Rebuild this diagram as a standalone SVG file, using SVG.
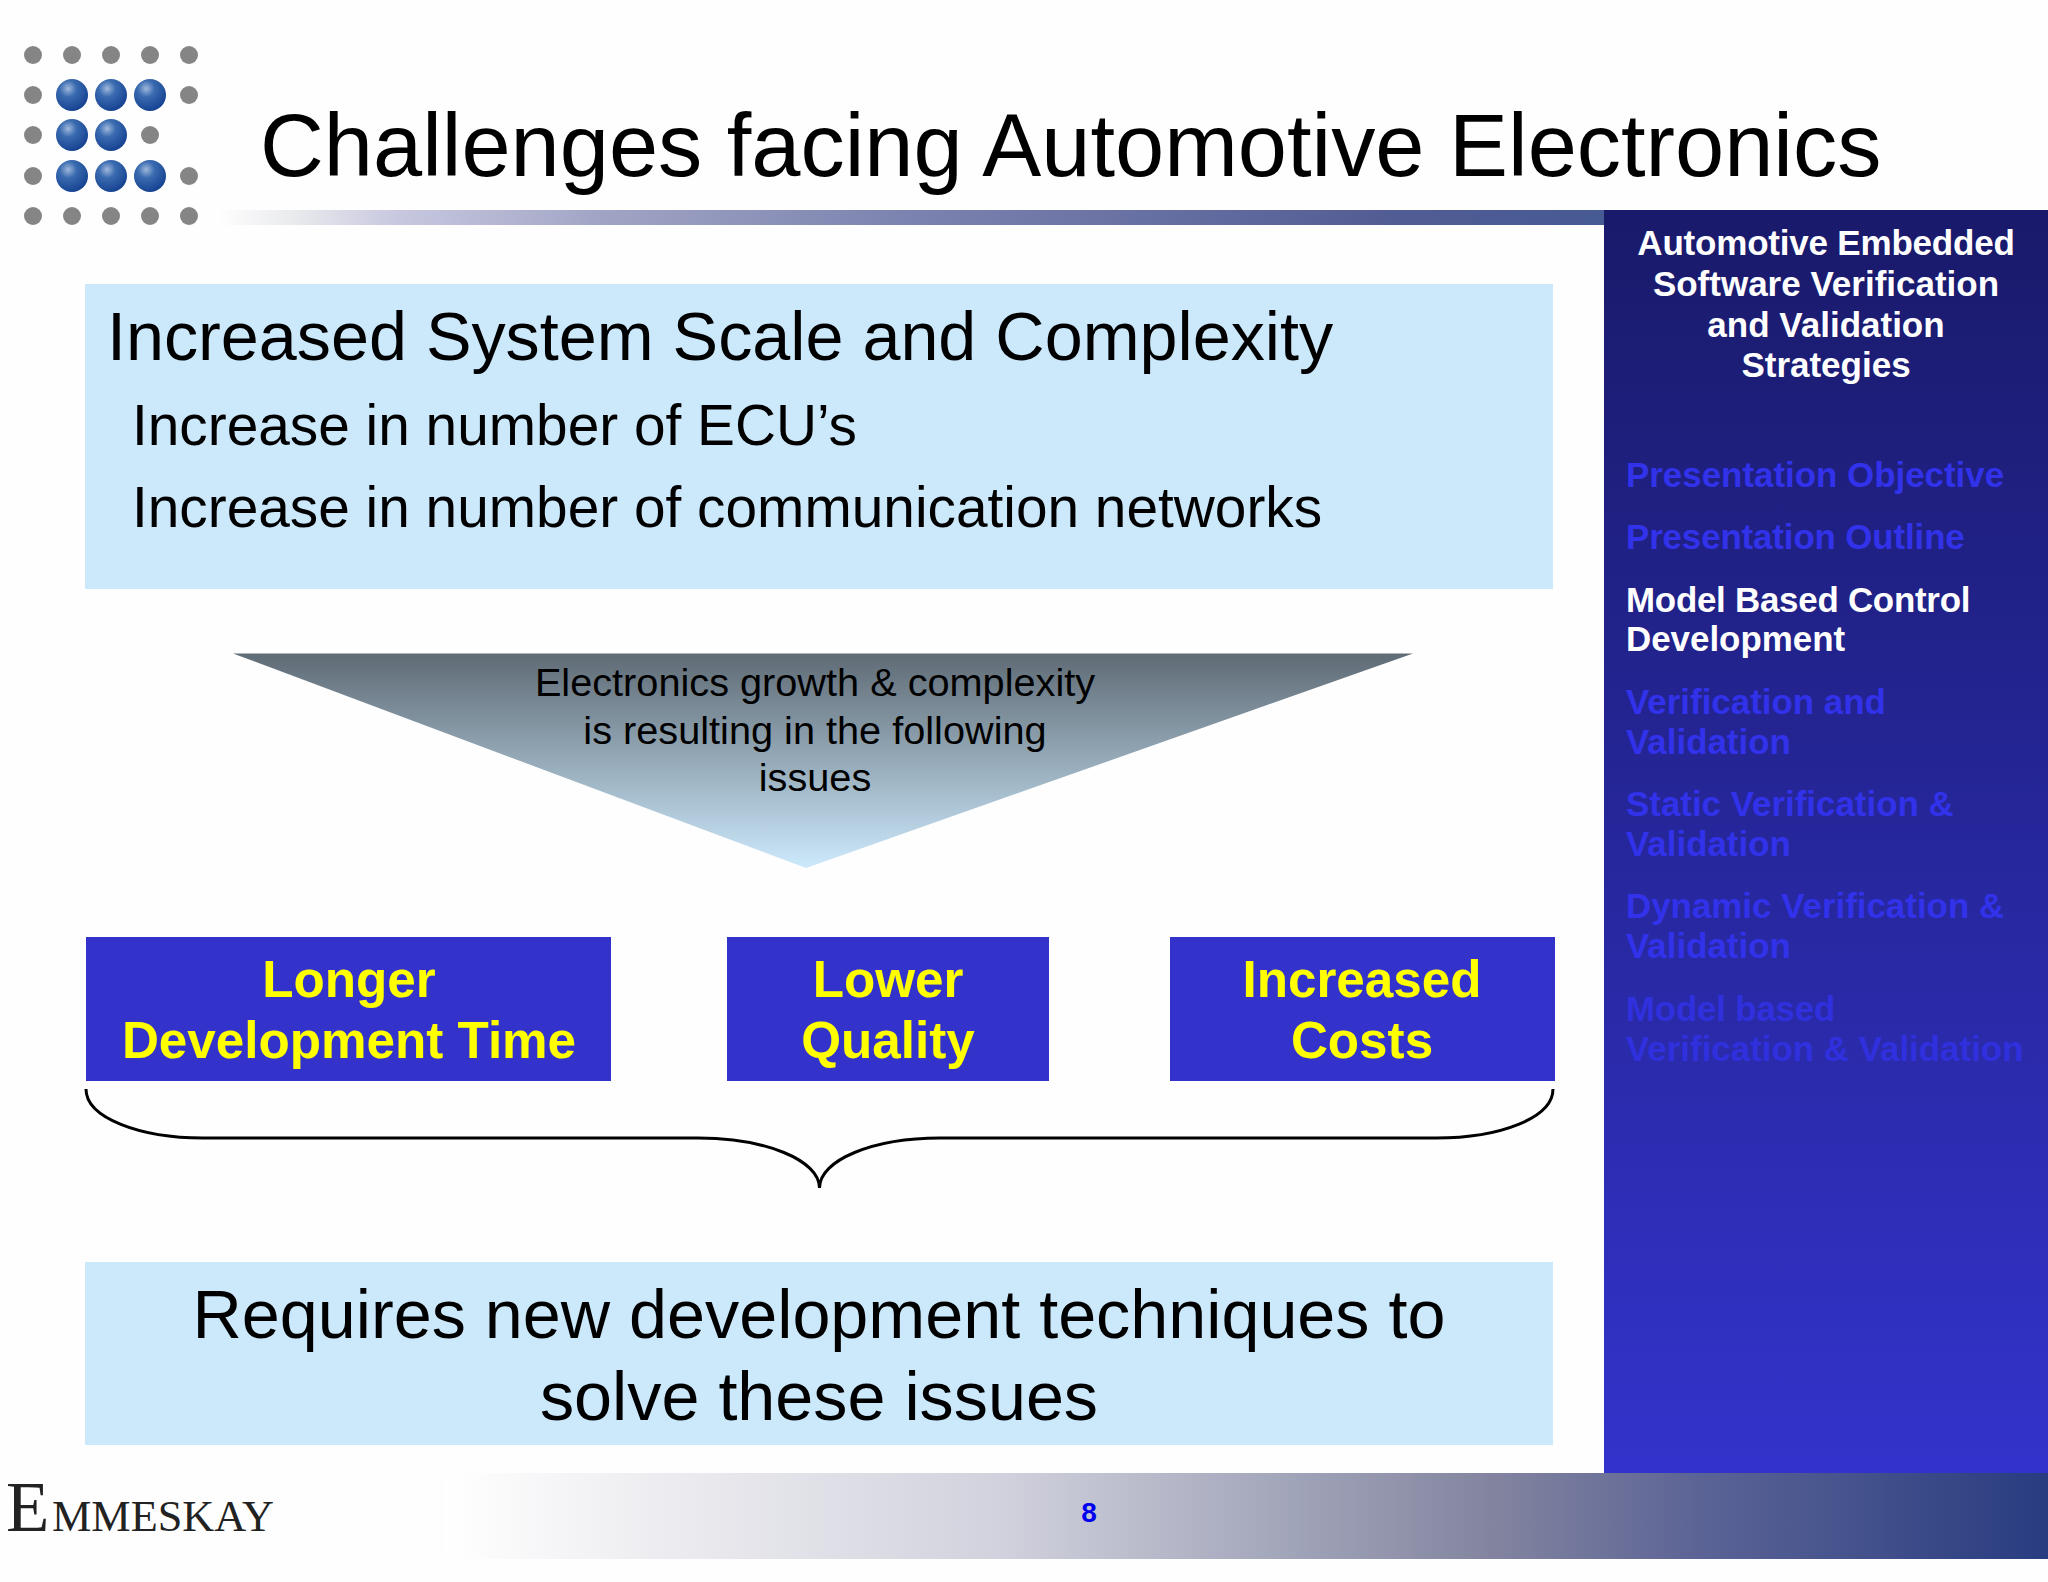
<svg xmlns="http://www.w3.org/2000/svg" width="2048" height="1582" viewBox="0 0 2048 1582">
<defs>
<linearGradient id="hdr" gradientUnits="userSpaceOnUse" x1="215" x2="1604" y1="0" y2="0"><stop offset="0" stop-color="#ffffff"/><stop offset="0.06" stop-color="#e8e9ec"/><stop offset="0.13" stop-color="#c8c8e0"/><stop offset="0.28" stop-color="#a0a4c4"/><stop offset="0.49" stop-color="#7c84b0"/><stop offset="0.85" stop-color="#525c94"/><stop offset="1" stop-color="#465a94"/></linearGradient>
<linearGradient id="ftr" gradientUnits="userSpaceOnUse" x1="445" x2="2048" y1="0" y2="0"><stop offset="0" stop-color="#ffffff"/><stop offset="0.16" stop-color="#e9e9ee"/><stop offset="0.345" stop-color="#d2d2de"/><stop offset="0.53" stop-color="#a0a4b8"/><stop offset="0.655" stop-color="#82849f"/><stop offset="0.78" stop-color="#5c6496"/><stop offset="1" stop-color="#283c80"/></linearGradient>
<linearGradient id="side" x1="0" x2="0" y1="0" y2="1"><stop offset="0" stop-color="#191a6a"/><stop offset="1" stop-color="#3333cc"/></linearGradient>
<linearGradient id="tri" x1="0" x2="0" y1="0" y2="1"><stop offset="0" stop-color="#5f6b75"/><stop offset="1" stop-color="#cce9fc"/></linearGradient>
<radialGradient id="ball" cx="0.38" cy="0.3" r="0.75"><stop offset="0" stop-color="#9fb8dc"/><stop offset="0.35" stop-color="#3a6bb0"/><stop offset="1" stop-color="#133f8f"/></radialGradient>
</defs>
<style>
text{font-family:"Liberation Sans",Arial,sans-serif}
.g{fill:#858585}
.b{fill:url(#ball)}
.lt{fill:#cce9fc}
.bx{fill:#3333cc}
.yl{font-size:51.2px;font-weight:bold;fill:#ffff00;text-anchor:middle}
.big{font-size:68.3px;fill:#000}
.mid{font-size:56.8px;fill:#000}
.tt{font-size:39.7px;fill:#000;text-anchor:middle}
.sh{font-size:35px;font-weight:bold;fill:#fff;text-anchor:middle}
.si{font-size:34.9px;font-weight:bold;fill:#3232ea}
.sf{font-size:34.9px;font-weight:bold;fill:#3030de}
.sw{font-size:34.9px;font-weight:bold;fill:#fff}
.serif{font-family:"Liberation Serif",serif;fill:#222}
</style>
<rect width="2048" height="1582" fill="#fefefe"/>
<g id="logo">
<circle class="g" cx="33" cy="55" r="9"/><circle class="g" cx="72" cy="55" r="9"/><circle class="g" cx="111" cy="55" r="9"/><circle class="g" cx="150" cy="55" r="9"/><circle class="g" cx="189" cy="55" r="9"/>
<circle class="g" cx="33" cy="95" r="9"/><circle class="b" cx="72" cy="95" r="16"/><circle class="b" cx="111" cy="95" r="16"/><circle class="b" cx="150" cy="95" r="16"/><circle class="g" cx="189" cy="95" r="9"/>
<circle class="g" cx="33" cy="135" r="9"/><circle class="b" cx="72" cy="135" r="16"/><circle class="b" cx="111" cy="135" r="16"/><circle class="g" cx="150" cy="135" r="9"/>
<circle class="g" cx="33" cy="176" r="9"/><circle class="b" cx="72" cy="176" r="16"/><circle class="b" cx="111" cy="176" r="16"/><circle class="b" cx="150" cy="176" r="16"/><circle class="g" cx="189" cy="176" r="9"/>
<circle class="g" cx="33" cy="216" r="9"/><circle class="g" cx="72" cy="216" r="9"/><circle class="g" cx="111" cy="216" r="9"/><circle class="g" cx="150" cy="216" r="9"/><circle class="g" cx="189" cy="216" r="9"/>
</g>
<rect id="header-bar" x="215" y="210" width="1389" height="15" fill="url(#hdr)"/>
<rect id="footer-bar" x="445" y="1473" width="1603" height="86" fill="url(#ftr)"/>
<rect id="sidebar" x="1604" y="210" width="444" height="1263" fill="url(#side)"/>
<text id="title" x="260" y="176" font-size="88.4" fill="#000">Challenges facing Automotive Electronics</text>
<g id="top-box">
<rect class="lt" x="85" y="284" width="1468" height="305"/>
<text class="big" x="107" y="360">Increased System Scale and Complexity</text>
<text class="mid" x="132" y="445">Increase in number of ECU’s</text>
<text class="mid" x="132" y="527">Increase in number of communication networks</text>
</g>
<g id="triangle">
<polygon points="233,653.5 1413,653.5 806,868" fill="url(#tri)"/>
<text class="tt" x="815" y="696">Electronics growth &amp; complexity</text>
<text class="tt" x="815" y="744">is resulting in the following</text>
<text class="tt" x="815" y="791">issues</text>
</g>
<g id="box-time">
<rect class="bx" x="86" y="937" width="525" height="144"/>
<text class="yl" x="349" y="997">Longer</text>
<text class="yl" x="349" y="1058">Development Time</text>
</g>
<g id="box-quality">
<rect class="bx" x="727" y="937" width="322" height="144"/>
<text class="yl" x="888" y="997">Lower</text>
<text class="yl" x="888" y="1058">Quality</text>
</g>
<g id="box-costs">
<rect class="bx" x="1170" y="937" width="385" height="144"/>
<text class="yl" x="1362" y="997">Increased</text>
<text class="yl" x="1362" y="1058">Costs</text>
</g>
<g id="connectors">
<path d="M86,1089 C86,1118 140,1138 203,1138 L698,1138 C765,1138 819.5,1160 819.5,1188 C819.5,1160 873,1138 940,1138 L1436,1138 C1500,1138 1553,1118 1553,1089" fill="none" stroke="#000" stroke-width="3"/>
</g>
<g id="bottom-box">
<rect class="lt" x="85" y="1262" width="1468" height="183"/>
<text class="big" x="819" y="1338" text-anchor="middle">Requires new development techniques to</text>
<text class="big" x="819" y="1420" text-anchor="middle">solve these issues</text>
</g>
<g id="sidebar-text">
<text class="sh" x="1826" y="255" letter-spacing="-0.2">Automotive Embedded</text>
<text class="sh" x="1826" y="296">Software Verification</text>
<text class="sh" x="1826" y="337">and Validation</text>
<text class="sh" x="1826" y="377">Strategies</text>
<text class="si" x="1626" y="487">Presentation Objective</text>
<text class="si" x="1626" y="549" letter-spacing="-0.13">Presentation Outline</text>
<text class="sw" x="1626" y="612" letter-spacing="-0.25">Model Based Control</text>
<text class="sw" x="1626" y="651">Development</text>
<text class="si" x="1626" y="714">Verification and</text>
<text class="si" x="1626" y="754">Validation</text>
<text class="si" x="1626" y="816">Static Verification &amp;</text>
<text class="si" x="1626" y="856">Validation</text>
<text class="si" x="1626" y="918">Dynamic Verification &amp;</text>
<text class="si" x="1626" y="958">Validation</text>
<text class="sf" x="1626" y="1021" letter-spacing="-0.2">Model based</text>
<text class="sf" x="1626" y="1061">Verification &amp; Validation</text>
</g>
<g id="footer">
<text class="serif" x="6" y="1531" font-size="71">E</text>
<text class="serif" x="52" y="1531" font-size="44" textLength="222" lengthAdjust="spacingAndGlyphs">MMESKAY</text>
<text x="1089" y="1522" font-size="28" font-weight="bold" fill="#0000ee" text-anchor="middle">8</text>
</g>
</svg>
